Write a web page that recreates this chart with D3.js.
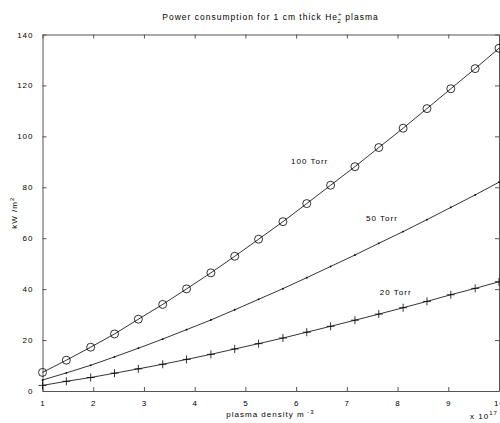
<!DOCTYPE html>
<html>
<head>
<meta charset="utf-8">
<script src="https://cdn.jsdelivr.net/npm/d3@7"></script>
<style>
  body { margin: 0; background: #fff; }
  svg text { font-family: "Liberation Sans", Arial, sans-serif; fill: #000; }
</style>
</head>
<body>
<svg id="chart"></svg>
<script>
// plasma density (x 10^17 m^-3)
const density = [1.00, 1.47, 1.95, 2.42, 2.89, 3.37, 3.84, 4.32, 4.79, 5.26,
                 5.74, 6.21, 6.68, 7.16, 7.63, 8.11, 8.58, 9.05, 9.53, 10.00];
// power (kW/m^2) for each pressure
const torr100 = [7.3, 12.1, 17.2, 22.4, 28.2, 34.0, 40.1, 46.4, 52.9, 59.6,
                 66.5, 73.6, 80.8, 88.1, 95.6, 103.2, 110.9, 118.7, 126.6, 134.6];
const torr50 = [4.3, 7.1, 10.1, 13.4, 16.8, 20.4, 24.1, 27.9, 31.9, 36.0,
                40.2, 44.5, 48.9, 53.4, 58.0, 62.6, 67.3, 72.1, 77.0, 82.0];
const torr20 = [2.2, 3.8, 5.3, 7.0, 8.7, 10.5, 12.4, 14.4, 16.5, 18.6,
                20.8, 23.1, 25.4, 27.8, 30.2, 32.7, 35.2, 37.8, 40.3, 42.9];
const xTicks = [1, 2, 3, 4, 5, 6, 7, 8, 9, 10];
const yTicks = [0, 20, 40, 60, 80, 100, 120, 140];
// labels placed next to the curves (data coords)
const curveLabels = [
  {text: "100 Torr", x: 5.9, y: 89},
  {text: "50 Torr", x: 7.38, y: 66.9},
  {text: "20 Torr", x: 7.65, y: 37.8}
];

const W = 500, H = 423;
const svg = d3.select("#chart").attr("width", W).attr("height", H);

const x = d3.scaleLinear().domain([1, 10]).range([42.5, 499]);
const y = d3.scaleLinear().domain([0, 140]).range([391, 34.5]);

const axisColor = "#555";
const tickFont = "8px";

function styleAxis(g) {
  g.select(".domain").attr("stroke", axisColor);
  g.selectAll(".tick line").attr("stroke", axisColor);
  g.selectAll("text").attr("font-size", tickFont).attr("letter-spacing", "1px")
    .style("font-family", '"Liberation Sans", Arial, sans-serif');
}

// box axes, ticks pointing inward
svg.append("g").attr("transform", `translate(0,${y(0)})`)
  .call(d3.axisBottom(x).tickValues(xTicks).tickSizeInner(-4).tickSizeOuter(0).tickPadding(9).tickFormat(d3.format("d")))
  .call(styleAxis);
svg.append("g").attr("transform", `translate(0,${y(140)})`)
  .call(d3.axisTop(x).tickValues(xTicks).tickSizeInner(-4).tickSizeOuter(0).tickFormat(""))
  .call(styleAxis);
svg.append("g").attr("transform", `translate(${x(1)},0)`)
  .call(d3.axisLeft(y).tickValues(yTicks).tickSizeInner(-4).tickSizeOuter(0).tickPadding(9).tickFormat(d3.format("d")))
  .call(styleAxis);
svg.append("g").attr("transform", `translate(${x(10)},0)`)
  .call(d3.axisRight(y).tickValues(yTicks).tickSizeInner(-4).tickSizeOuter(0).tickFormat(""))
  .call(styleAxis);

const line = d3.line().x(d => x(d[0])).y(d => y(d[1]));
const series = [
  {vals: torr100, marker: "circle"},
  {vals: torr50, marker: "dot"},
  {vals: torr20, marker: "plus"}
];

series.forEach(s => {
  const pts = density.map((d, i) => [d, s.vals[i]]);
  svg.append("path").datum(pts)
    .attr("d", line)
    .attr("fill", "none")
    .attr("stroke", "#000")
    .attr("stroke-width", 0.8);

  const g = svg.append("g");
  if (s.marker === "circle") {
    g.selectAll("circle").data(pts).enter().append("circle")
      .attr("cx", d => x(d[0])).attr("cy", d => y(d[1]))
      .attr("r", 4).attr("fill", "none").attr("stroke", "#000").attr("stroke-width", 0.8);
  } else if (s.marker === "dot") {
    g.selectAll("circle").data(pts).enter().append("circle")
      .attr("cx", d => x(d[0])).attr("cy", d => y(d[1]))
      .attr("r", 0.9).attr("fill", "#000");
  } else {
    g.selectAll("path").data(pts).enter().append("path")
      .attr("d", d => {
        const cx = x(d[0]), cy = y(d[1]);
        return `M${cx - 4},${cy}H${cx + 4}M${cx},${cy - 4}V${cy + 4}`;
      })
      .attr("stroke", "#000").attr("stroke-width", 0.8);
  }
});

// curve labels
svg.selectAll(".clabel").data(curveLabels).enter().append("text")
  .attr("class", "clabel")
  .attr("x", d => x(d.x)).attr("y", d => y(d.y))
  .attr("font-size", "8px").attr("letter-spacing", "1px")
  .text(d => d.text);

// title
const title = svg.append("text")
  .attr("x", 270.5).attr("y", 20)
  .attr("text-anchor", "middle")
  .attr("font-size", "8.5px").attr("letter-spacing", "1px");
title.append("tspan").text("Power consumption for 1 cm thick He");
title.append("tspan").attr("font-size", "6px").attr("dy", -4).text("+");
title.append("tspan").attr("font-size", "6px").attr("dx", -5).attr("dy", 7).text("2");
title.append("tspan").attr("dy", -3).text(" plasma");

// x label
const xl = svg.append("text")
  .attr("x", 270.5).attr("y", 416.5)
  .attr("text-anchor", "middle")
  .attr("font-size", "8px").attr("letter-spacing", "1px");
xl.append("tspan").text("plasma density m");
xl.append("tspan").attr("font-size", "6px").attr("dy", -3).text(" -3");

// exponent
const ex = svg.append("text")
  .attr("x", 470).attr("y", 419)
  .attr("font-size", "8px").attr("letter-spacing", "1px");
ex.append("tspan").text("x 10");
ex.append("tspan").attr("font-size", "6px").attr("dy", -4).text("17");

// y label
const yl = svg.append("text")
  .attr("transform", `translate(17,${(y(0) + y(140)) / 2}) rotate(-90)`)
  .attr("text-anchor", "middle")
  .attr("font-size", "8px").attr("letter-spacing", "1px");
yl.append("tspan").text("kW /m");
yl.append("tspan").attr("font-size", "6px").attr("dy", -3).text("2");
</script>
</body>
</html>
